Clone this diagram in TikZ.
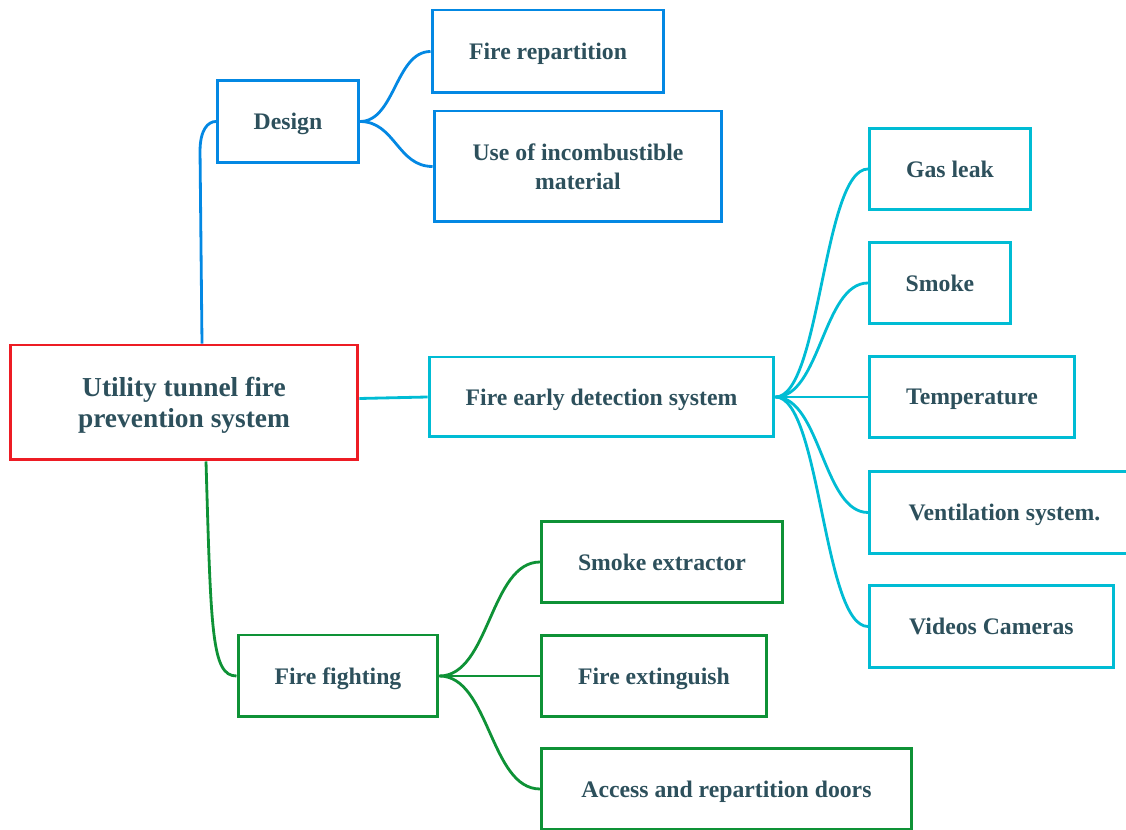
\documentclass[tikz,border=0pt]{standalone}
\usepackage{fontspec}
\setmainfont{Liberation Serif}
\usetikzlibrary{positioning,calc}
\definecolor{utRed}{RGB}{237,28,36}
\definecolor{utBlue}{RGB}{3,136,227}
\definecolor{utCyan}{RGB}{0,188,212}
\definecolor{utGreen}{RGB}{14,146,54}
\definecolor{utText}{RGB}{45,80,92}

\begin{document}
\begin{tikzpicture}[x=0.02cm, y=-0.02cm,
  box/.style={draw, line width=1.7pt, fill=white, text=utText, align=center, inner sep=0pt, text depth=0pt,
    font=\fontsize{13.5}{16.4}\selectfont\bfseries},
  link/.style={line width=1.6pt}]
  \useasboundingbox (0,0) rectangle (1126,830);
  \clip (0,0) rectangle (1126,830);

  % Root of the map
  \node[box, draw=utRed, minimum width=6.96cm, minimum height=2.30cm,
    font=\fontsize{15.6}{17.6}\selectfont\bfseries] (root) at (184,402.5) {Utility tunnel fire\\prevention system};

  % Design branch
  \node[box, draw=utBlue, minimum width=2.82cm, minimum height=1.64cm] (design) at (288,121.5) {Design};
  \node[box, draw=utBlue, minimum width=4.64cm, minimum height=1.66cm] (repart) at (548,51.5) {Fire repartition};
  \node[box, draw=utBlue, minimum width=5.76cm, minimum height=2.22cm] (incomb) at (578,166.5) {Use of incombustible\\material};
  \draw[link, utBlue] ($(root.north)+(18,0)$) -- ($(design.west)+(-16,30)$) .. controls +(0,-22) and +(-8,0) .. (design.west);
  \foreach \leaf in {repart, incomb} {
    \draw[link, utBlue] (design.east) .. controls +(35,0) and +(-35,0) .. (\leaf.west);
  }

  % Detection branch
  \node[box, draw=utCyan, minimum width=6.90cm, minimum height=1.60cm] (feds) at (601.5,397) {Fire early detection system};
  \draw[link, utCyan] ($(root.east)+(0,-4)$) -- (feds.west);
  \foreach \name/\y/\w/\txt in {gas/169/3.22/Gas leak, smoke/283/2.82/Smoke, temp/397/4.10/Temperature,
      vent/512.5/5.40/Ventilation system., video/626.5/4.88/Videos Cameras} {
    \node[box, draw=utCyan, anchor=west, minimum width=\w cm, minimum height=1.63cm] (\name) at (868,\y) {\txt};
    \draw[link, utCyan] (feds.east) .. controls +(45,0) and +(-45,0) .. (\name.west);
  }

  % Fighting branch
  \node[box, draw=utGreen, minimum width=4.00cm, minimum height=1.64cm] (fight) at (338,676) {Fire fighting};
  \draw[link, utGreen] ($(root.south)+(22,0)$) .. controls +(5,170) and +(-25,0) .. (fight.west);
  \foreach \name/\y/\w/\txt in {extract/562/4.82/Smoke extractor, extin/676/4.50/Fire extinguish,
      doors/789/7.40/Access and repartition doors} {
    \node[box, draw=utGreen, anchor=west, minimum width=\w cm, minimum height=1.62cm] (\name) at (540,\y) {\txt};
    \draw[link, utGreen] (fight.east) .. controls +(50,0) and +(-50,0) .. (\name.west);
  }
\end{tikzpicture}
\end{document}
